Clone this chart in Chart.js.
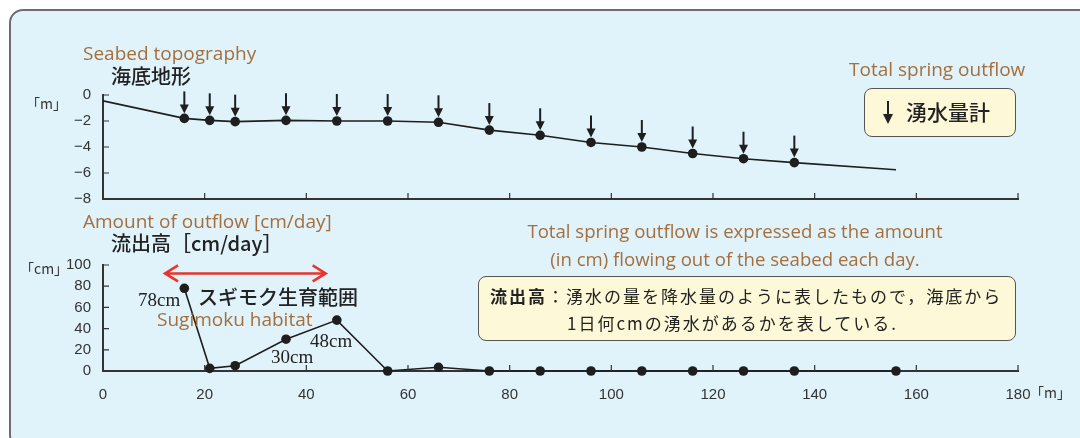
<!DOCTYPE html>
<html>
<head>
<meta charset="utf-8">
<script src="https://cdn.jsdelivr.net/npm/chart.js@4.4.0/dist/chart.umd.min.js"></script>
<style>
  html, body { margin: 0; padding: 0; background: #fff; }
  #wrap { position: relative; width: 1080px; height: 438px; overflow: hidden; }
  #panel { position: absolute; left: 9px; top: 9px; width: 1090px; height: 440px;
           box-sizing: border-box; border: 2px solid #6e6e6e; border-radius: 14px; background: #e0f2fa; }
  canvas { position: absolute; left: 0; top: 0; }
  .t { position: absolute; white-space: nowrap; line-height: 1; }
  .en { font-family: "Open Sans", sans-serif; color: #a46f3c; }
  .jp { font-family: "Noto Sans CJK JP", sans-serif; color: #222; font-weight: 500; }
  .unit { font-family: "Noto Sans CJK JP", sans-serif; color: #333; font-size: 14px; }
  .cm { font-family: "Liberation Serif", serif; color: #222; font-size: 19px; }
  .box { position: absolute; box-sizing: border-box; border: 1.5px solid #555; border-radius: 8px; background: #fdf9d8; }
</style>
</head>
<body>
<div id="wrap">
  <div id="panel"></div>
  <canvas id="topChart" width="1080" height="438"></canvas>
  <canvas id="bottomChart" width="1080" height="438"></canvas>

  <div class="t en" style="left:83px; top:44px; font-size:19px;">Seabed topography</div>
  <div class="t jp" style="left:111px; top:66px; font-size:20px;">海底地形</div>
  <div class="t unit" style="left:33px; top:96px;">｢m｣</div>

  <div class="t en" style="left:849px; top:60px; font-size:19px;">Total spring outflow</div>
  <div class="box" style="left:864px; top:88px; width:152px; height:49px;"></div>
  <svg style="position:absolute; left:880px; top:100px;" width="16" height="26">
    <line x1="8" y1="1" x2="8" y2="15" stroke="#222" stroke-width="2"/>
    <polygon points="3,14 13,14 8,24" fill="#222"/>
  </svg>
  <div class="t jp" style="left:906px; top:101px; font-size:21px;">湧水量計</div>

  <div class="t en" style="left:83px; top:212px; font-size:19px;">Amount of outflow [cm/day]</div>
  <div class="t jp" style="left:111px; top:233px; font-size:20px;">流出高［cm/day］</div>
  <div class="t unit" style="left:27px; top:261px;">｢cm｣</div>

  <div class="t en" style="left:485px; top:222px; width:500px; text-align:center; font-size:18.6px;">Total spring outflow is expressed as the amount</div>
  <div class="t en" style="left:485px; top:250px; width:500px; text-align:center; font-size:18.6px;">(in cm) flowing out of the seabed each day.</div>
  <div class="box" style="left:478px; top:276px; width:538px; height:65px;"></div>
  <div class="t jp" style="left:490px; top:287px; font-size:17px; font-weight:400; letter-spacing:2px;"><b>流出高</b>：湧水の量を降水量のように表したもので，海底から</div>
  <div class="t jp" style="left:567px; top:314px; font-size:17px; font-weight:400; letter-spacing:2px;">1日何cmの湧水があるかを表している.</div>

  <div class="t jp" style="left:198px; top:287px; font-size:20px;">スギモク生育範囲</div>
  <div class="t en" style="left:157px; top:310px; font-size:19px;">Sugimoku habitat</div>
  <div class="t cm" style="left:138px; top:290px;">78cm</div>
  <div class="t cm" style="left:310px; top:331px;">48cm</div>
  <div class="t cm" style="left:271px; top:347px;">30cm</div>

  <div class="t unit" style="left:1037px; top:385px;">｢m｣</div>
</div>

<script>
// seabed profile (distance from shore [m] / depth [m])
var depthX = [0, 16, 21, 26, 36, 46, 56, 66, 76, 86, 96, 106, 116, 126, 136, 156];
var depthY = [-0.45, -1.8, -1.95, -2.05, -1.95, -2.0, -2.0, -2.1, -2.7, -3.1, -3.65, -4.0, -4.5, -4.9, -5.2, -5.75];
// points where spring outflow was totalled (arrows)
var arrowX = [16, 21, 26, 36, 46, 56, 66, 76, 86, 96, 106, 116, 126, 136];

// outflow height [cm/day]
var flowX = [16, 21, 26, 36, 46, 56, 66, 76, 86, 96, 106, 116, 126, 136, 156];
var flowY = [78, 2.5, 5, 30, 48, 0, 3.5, 0, 0, 0, 0, 0, 0, 0, 0];

// Sugimoku habitat range [m]
var habitatRange = [12, 44];
var habitatLevel = 92;

var xTicks = [0, 20, 40, 60, 80, 100, 120, 140, 160, 180];
var depthTicks = [0, -2, -4, -6, -8];
var flowTicks = [0, 20, 40, 60, 80, 100];

var ink = "#1e1e1e";
var axisInk = "#333";
var tickFont = { family: "Liberation Sans, Arial, sans-serif", size: 15 };

function pts(xs, ys) {
  return xs.map(function(x, i) { return { x: x, y: ys[i] }; });
}

// short tick marks pointing into the plot
var innerTicks = {
  id: "innerTicks",
  afterDatasetsDraw: function(chart) {
    var ctx = chart.ctx, xs = chart.scales.x, ys = chart.scales.y;
    ctx.save();
    ctx.strokeStyle = axisInk;
    ctx.lineWidth = 1.2;
    ctx.beginPath();
    xs.ticks.forEach(function(t) {
      if (t.value === xs.min) return;
      var px = xs.getPixelForValue(t.value);
      ctx.moveTo(px, ys.bottom);
      ctx.lineTo(px, ys.bottom - 6);
    });
    ys.ticks.forEach(function(t) {
      if (t.value === ys.min) return;
      var py = ys.getPixelForValue(t.value);
      ctx.moveTo(xs.left, py);
      ctx.lineTo(xs.left + 6, py);
    });
    ctx.stroke();
    ctx.restore();
  }
};

// down arrows above the seabed points
var springArrows = {
  id: "springArrows",
  afterDatasetsDraw: function(chart) {
    if (chart.canvas.id !== "topChart") return;
    var ctx = chart.ctx, xs = chart.scales.x, ys = chart.scales.y;
    ctx.save();
    ctx.strokeStyle = ink;
    ctx.fillStyle = ink;
    ctx.lineWidth = 2;
    arrowX.forEach(function(v) {
      var i = depthX.indexOf(v);
      var px = xs.getPixelForValue(v), py = ys.getPixelForValue(depthY[i]);
      ctx.beginPath();
      ctx.moveTo(px, py - 27);
      ctx.lineTo(px, py - 12);
      ctx.stroke();
      ctx.beginPath();
      ctx.moveTo(px - 4.5, py - 14);
      ctx.lineTo(px + 4.5, py - 14);
      ctx.lineTo(px, py - 5);
      ctx.closePath();
      ctx.fill();
    });
    ctx.restore();
  }
};

// red double arrow for the habitat range
var habitatArrow = {
  id: "habitatArrow",
  afterDatasetsDraw: function(chart) {
    if (chart.canvas.id !== "bottomChart") return;
    var ctx = chart.ctx, xs = chart.scales.x, ys = chart.scales.y;
    var x1 = xs.getPixelForValue(habitatRange[0]), x2 = xs.getPixelForValue(habitatRange[1]);
    var py = ys.getPixelForValue(habitatLevel);
    ctx.save();
    ctx.strokeStyle = "#e8362c";
    ctx.lineWidth = 2.6;
    ctx.lineJoin = "miter";
    ctx.beginPath();
    ctx.moveTo(x1 + 1, py);
    ctx.lineTo(x2 - 1, py);
    ctx.moveTo(x1 + 14, py - 8);
    ctx.lineTo(x1 + 1, py);
    ctx.lineTo(x1 + 14, py + 8);
    ctx.moveTo(x2 - 14, py - 8);
    ctx.lineTo(x2 - 1, py);
    ctx.lineTo(x2 - 14, py + 8);
    ctx.stroke();
    ctx.restore();
  }
};

function xScale(showLabels, h) {
  return {
    type: "linear", min: 0, max: 180,
    afterBuildTicks: function(s) { s.ticks = xTicks.map(function(v) { return { value: v }; }); },
    afterFit: function(s) { s.height = h; },
    grid: { display: true, drawOnChartArea: false, drawTicks: false },
    border: { display: true, color: axisInk, width: 2 },
    ticks: { display: showLabels, color: axisInk, font: tickFont, padding: 15, maxRotation: 0 }
  };
}

function yScale(min, max, list) {
  return {
    type: "linear", min: min, max: max,
    afterBuildTicks: function(s) { s.ticks = list.map(function(v) { return { value: v }; }); },
    afterFit: function(s) { s.width = 40; },
    grid: { display: true, drawOnChartArea: false, drawTicks: false },
    border: { display: true, color: axisInk, width: 2 },
    ticks: {
      color: axisInk, font: tickFont, padding: 12,
      callback: function(v) { return v < 0 ? "\u2212" + Math.abs(v) : String(v); }
    }
  };
}

function baseOptions(pad) {
  return {
    responsive: false,
    animation: false,
    devicePixelRatio: 1,
    layout: { padding: pad },
    plugins: { legend: { display: false }, tooltip: { enabled: false }, title: { display: false } },
    scales: {}
  };
}

var topOpts = baseOptions({ left: 63, right: 62, top: 95, bottom: 233 });
topOpts.scales.x = xScale(false, 6);
topOpts.scales.y = yScale(-8, 0, depthTicks);

new Chart(document.getElementById("topChart"), {
  type: "line",
  data: {
    datasets: [{
      data: pts(depthX, depthY),
      borderColor: ink,
      borderWidth: 1.6,
      pointBackgroundColor: ink,
      pointBorderWidth: 0,
      pointRadius: depthX.map(function(x) { return arrowX.indexOf(x) >= 0 ? 4.8 : 0; }),
      tension: 0
    }]
  },
  options: topOpts,
  plugins: [innerTicks, springArrows]
});

var botOpts = baseOptions({ left: 63, right: 62, top: 265, bottom: 37 });
botOpts.scales.x = xScale(true, 30);
botOpts.scales.y = yScale(0, 100, flowTicks);

new Chart(document.getElementById("bottomChart"), {
  type: "line",
  data: {
    datasets: [{
      data: pts(flowX, flowY),
      borderColor: ink,
      borderWidth: 1.6,
      pointBackgroundColor: ink,
      pointBorderWidth: 0,
      pointRadius: 4.8,
      clip: false,
      tension: 0
    }]
  },
  options: botOpts,
  plugins: [innerTicks, habitatArrow]
});
</script>
</body>
</html>
